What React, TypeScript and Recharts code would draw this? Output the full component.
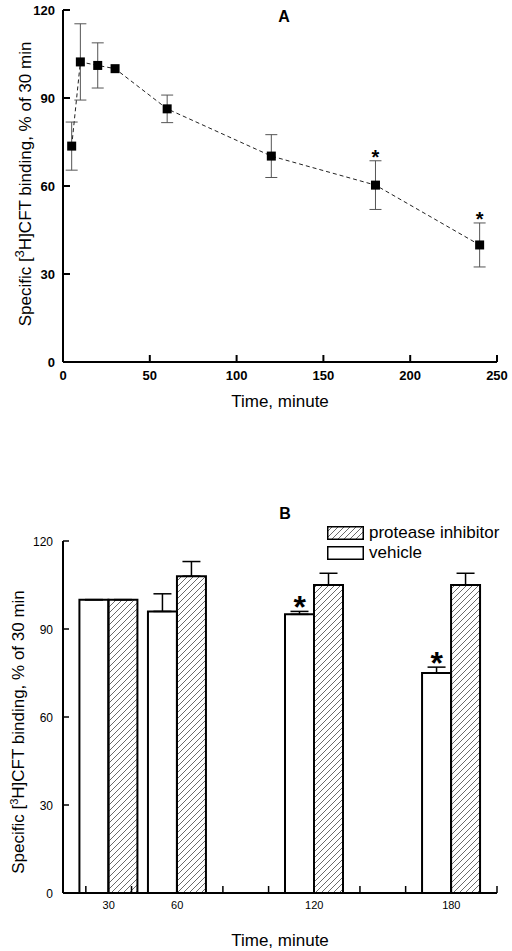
import {
  ComposedChart,
  Line,
  Bar,
  Scatter,
  XAxis,
  YAxis,
  ErrorBar,
  Legend,
} from "recharts";

const FONT = '"Liberation Sans", Arial, sans-serif';

// panel A: time course
const timeA = [5, 10, 20, 30, 60, 120, 180, 240];
const bindingA = [73.6, 102.3, 101.1, 100, 86.3, 70.2, 60.3, 39.9];
const semA = [8.2, 13, 7.7, 0, 4.7, 7.3, 8.3, 7.5];
const sigA = [false, false, false, false, false, false, true, true];
const xTicksA = [0, 50, 100, 150, 200, 250];
const yTicks = [0, 30, 60, 90, 120];

// panel B: vehicle vs protease inhibitor
const timeB = [30, 60, 120, 180];
const vehicleB = [100, 96, 95, 75];
const vehicleSemB = [0, 6, 1, 2];
const inhibitorB = [100, 108, 105, 105];
const inhibitorSemB = [0, 5, 4, 4];
const sigB = [false, false, true, true];
const xTickMarksB = [20, 40, 60, 80, 100, 120, 140, 160, 180, 200];
const xTickLabelsB = [30, 60, 120, 180];

const BAR_SIZE = 29;

const dataA = timeA.map((t, i) => ({ time: t, binding: bindingA[i], sem: semA[i] }));
const starsA = timeA
  .map((t, i) => ({ time: t, top: bindingA[i] + semA[i], sig: sigA[i] }))
  .filter((d) => d.sig);

const dataB = timeB.map((t, i) => ({
  time: t,
  vehicle: vehicleB[i],
  vehicleErr: [0, vehicleSemB[i]],
  inhibitor: inhibitorB[i],
  inhibitorErr: [0, inhibitorSemB[i]],
}));
const starsB = timeB
  .map((t, i) => ({ time: t, top: vehicleB[i] + vehicleSemB[i], sig: sigB[i] }))
  .filter((d) => d.sig);
const ticksB = Array.from(new Set([...xTickMarksB, ...xTickLabelsB])).sort((a, b) => a - b);

const legendB = [
  { label: "protease inhibitor", fill: "url(#hatchLegend)" },
  { label: "vehicle", fill: "#fff" },
];

function YTickA({ x, y, payload }: any) {
  return (
    <g>
      <line x1={x} x2={x + 7} y1={y} y2={y} stroke="#000" strokeWidth={2} />
      <text x={x - 8} y={y + 4.5} textAnchor="end" fontSize={13} fontWeight="bold" fontFamily={FONT} fill="#000">
        {payload.value}
      </text>
    </g>
  );
}

function XTickA({ x, y, payload }: any) {
  return (
    <g>
      <line x1={x} x2={x} y1={y} y2={y - 7} stroke="#000" strokeWidth={2} />
      <text x={x} y={y + 18} textAnchor="middle" fontSize={13} fontWeight="bold" fontFamily={FONT} fill="#000">
        {payload.value}
      </text>
    </g>
  );
}

function YTickB({ x, y, payload }: any) {
  return (
    <g>
      <line x1={x} x2={x + 6} y1={y} y2={y} stroke="#000" strokeWidth={1.5} />
      <text x={x - 10} y={y + 4.5} textAnchor="end" fontSize={12} fontFamily={FONT} fill="#000">
        {payload.value}
      </text>
    </g>
  );
}

function XTickB({ x, y, payload }: any) {
  const v = payload.value;
  return (
    <g>
      {xTickMarksB.includes(v) && <line x1={x} x2={x} y1={y} y2={y - 7} stroke="#000" strokeWidth={1.5} />}
      {xTickLabelsB.includes(v) && (
        <text x={x} y={y + 16} textAnchor="middle" fontSize={11} fontFamily={FONT} fill="#000">
          {v}
        </text>
      )}
    </g>
  );
}

// rotated y title with a superscript 3
function YTitle({ viewBox, baseX, shiftY, supSize, supRise }: any) {
  const vb = viewBox || { x: 0, y: 0, width: 63, height: 352 };
  const cx = baseX;
  const cy = vb.y + vb.height / 2 + shiftY;
  return (
    <text
      x={cx}
      y={cy}
      textAnchor="middle"
      fontSize={17}
      fontFamily={FONT}
      fill="#000"
      transform={`rotate(-90, ${cx}, ${cy})`}
    >
      Specific [
      <tspan dy={-supRise} fontSize={supSize}>3</tspan>
      <tspan dy={supRise}>H]CFT binding, % of 30 min</tspan>
    </text>
  );
}

function SquareDot({ cx, cy, index }: any) {
  return <rect key={index} x={cx - 4.5} y={cy - 4.5} width={9} height={9} fill="#000" />;
}

function StarA({ cx, cy }: any) {
  return (
    <text x={cx} y={cy + 3} textAnchor="middle" fontSize={20} fontWeight="bold" fontFamily={FONT} fill="#000">
      *
    </text>
  );
}

function StarB({ cx, cy }: any) {
  return (
    <text x={cx - BAR_SIZE / 2} y={cy + 7} textAnchor="middle" fontSize={32} fontWeight="bold" fontFamily={FONT} fill="#000">
      *
    </text>
  );
}

function LegendB() {
  return (
    <div style={{ fontFamily: FONT, fontSize: 17, color: "#000" }}>
      {legendB.map((item) => (
        <div key={item.label} style={{ display: "flex", alignItems: "center", height: 20 }}>
          <svg width={37} height={14}>
            <rect x={0.75} y={0.75} width={35.5} height={12.5} fill={item.fill} stroke="#000" strokeWidth={1.5} />
          </svg>
          <span style={{ marginLeft: 5, lineHeight: "20px" }}>{item.label}</span>
        </div>
      ))}
    </div>
  );
}

export default function App() {
  return (
    <div style={{ position: "absolute", left: 0, top: 0, width: 512, height: 951, background: "#fff" }}>
      <svg width={512} height={951} style={{ position: "absolute", left: 0, top: 0 }}>
        <defs>
          <pattern id="hatchB" patternUnits="userSpaceOnUse" width={6} height={6}>
            <path d="M-1,1 l2,-2 M0,6 l6,-6 M5,7 l2,-2" stroke="#444" strokeWidth={0.8} />
          </pattern>
          <pattern id="hatchLegend" patternUnits="userSpaceOnUse" width={6} height={6}>
            <path d="M-1,1 l2,-2 M0,6 l6,-6 M5,7 l2,-2" stroke="#444" strokeWidth={0.8} />
          </pattern>
        </defs>
        <text x={284} y={21.5} textAnchor="middle" fontSize={16} fontWeight="bold" fontFamily={FONT}>
          A
        </text>
        <text x={285} y={518.5} textAnchor="middle" fontSize={16} fontWeight="bold" fontFamily={FONT}>
          B
        </text>
      </svg>

      <div style={{ position: "absolute", left: 0, top: 0 }}>
        <ComposedChart width={512} height={470} data={dataA} margin={{ top: 10, right: 15, bottom: 78, left: 0 }}>
          <XAxis
            dataKey="time"
            type="number"
            domain={[0, 250]}
            ticks={xTicksA}
            interval={0}
            tickSize={0}
            tickMargin={0}
            tickLine={false}
            tick={<XTickA />}
            height={30}
            axisLine={{ stroke: "#000", strokeWidth: 2 }}
            label={{
              value: "Time, minute",
              position: "bottom",
              offset: 3,
              style: { fontSize: 17, fontFamily: FONT, fill: "#000" },
            }}
          />
          <YAxis
            type="number"
            domain={[0, 120]}
            ticks={yTicks}
            interval={0}
            tickSize={0}
            tickMargin={0}
            tickLine={false}
            tick={<YTickA />}
            width={63}
            axisLine={{ stroke: "#000", strokeWidth: 2 }}
            label={{
              content: (p: any) => <YTitle viewBox={p.viewBox} baseX={31} shiftY={-2} supSize={13} supRise={7} />,
            }}
          />
          <Line
            dataKey="binding"
            type="linear"
            stroke="#222"
            strokeWidth={1}
            strokeDasharray="4 3"
            dot={(p: any) => <SquareDot key={p.index} {...p} />}
            isAnimationActive={false}
          >
            <ErrorBar dataKey="sem" width={6} stroke="#555" strokeWidth={1} direction="y" />
          </Line>
          <Scatter data={starsA} dataKey="top" shape={<StarA />} isAnimationActive={false} />
        </ComposedChart>
      </div>

      <div style={{ position: "absolute", left: 0, top: 470 }}>
        <ComposedChart
          width={512}
          height={481}
          data={dataB}
          margin={{ top: 71, right: 15, bottom: 28, left: 0 }}
          barGap={0}
          barCategoryGap={0}
        >
          <XAxis
            dataKey="time"
            type="number"
            domain={[10, 200]}
            ticks={ticksB}
            interval={0}
            tickSize={0}
            tickMargin={0}
            tickLine={false}
            tick={<XTickB />}
            height={30}
            axisLine={{ stroke: "#000", strokeWidth: 2 }}
            label={{
              value: "Time, minute",
              position: "bottom",
              offset: 11,
              style: { fontSize: 17, fontFamily: FONT, fill: "#000" },
            }}
          />
          <YAxis
            type="number"
            domain={[0, 120]}
            ticks={yTicks}
            interval={0}
            tickSize={0}
            tickMargin={0}
            tickLine={false}
            tick={<YTickB />}
            width={63}
            axisLine={{ stroke: "#000", strokeWidth: 2 }}
            label={{
              content: (p: any) => <YTitle viewBox={p.viewBox} baseX={24} shiftY={15} supSize={11} supRise={6} />,
            }}
          />
          <Bar dataKey="vehicle" barSize={BAR_SIZE} fill="#fff" stroke="#000" strokeWidth={2} isAnimationActive={false}>
            <ErrorBar dataKey="vehicleErr" width={9} stroke="#000" strokeWidth={1.5} direction="y" />
          </Bar>
          <Bar dataKey="inhibitor" barSize={BAR_SIZE} fill="url(#hatchB)" stroke="#000" strokeWidth={2} isAnimationActive={false}>
            <ErrorBar dataKey="inhibitorErr" width={9} stroke="#000" strokeWidth={1.5} direction="y" />
          </Bar>
          <Scatter data={starsB} dataKey="top" shape={<StarB />} isAnimationActive={false} />
          <Legend
            layout="vertical"
            align="center"
            verticalAlign="middle"
            content={<LegendB />}
            wrapperStyle={{ top: 53, left: 327, width: "auto" }}
          />
        </ComposedChart>
      </div>
    </div>
  );
}
